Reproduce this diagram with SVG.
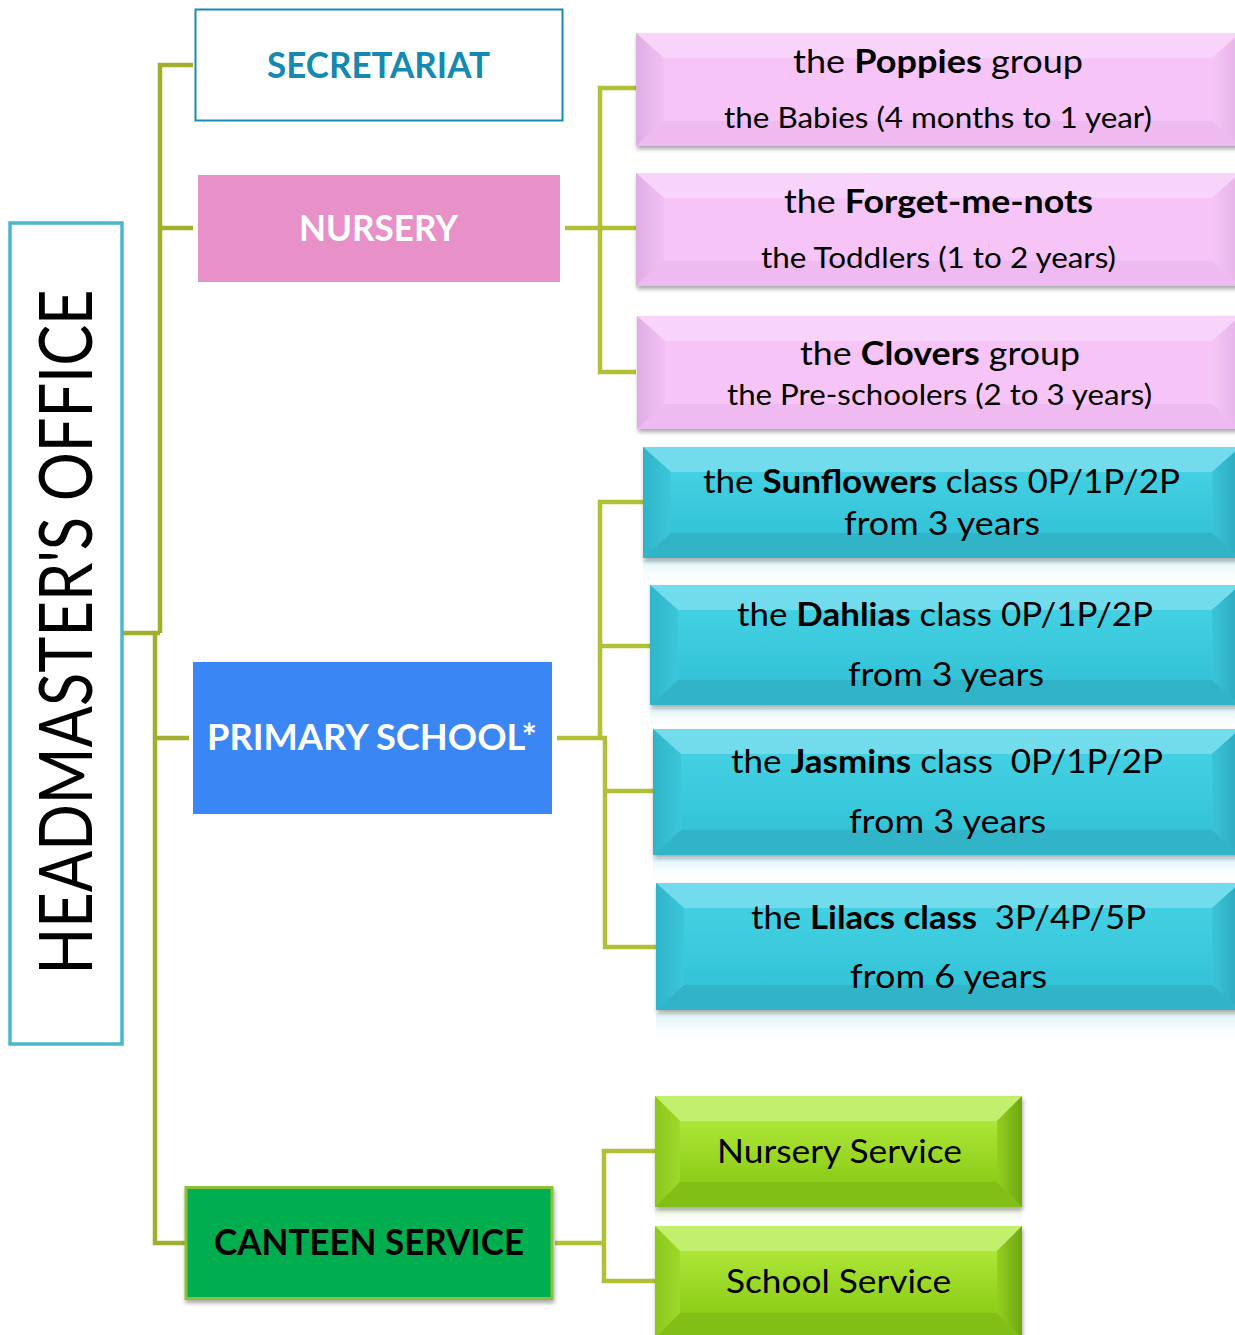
<svg xmlns="http://www.w3.org/2000/svg" width="1235" height="1335" viewBox="0 0 1235 1335">
<style>
text{font-family:Lato,"Noto Sans","Liberation Sans",sans-serif;text-anchor:middle}
.b{font-weight:bold}
.conn{fill:none;stroke:#a2ae2e;stroke-width:4.5;stroke-linejoin:miter}
.conn2{fill:none;stroke:#b2c036;stroke-width:4.5}
.pk{fill:#f6c4f7}
.pkT{fill:#f9d4fa}
.pkL{fill:url(#pkLg)}
.pkR{fill:url(#pkRg)}
.pkB{fill:#eebaef}
.cy{fill:url(#cyF)}
.cyT{fill:#72dcec}
.cyL{fill:url(#cyLg)}
.cyR{fill:url(#cyRg)}
.cyB{fill:#31b4c8}
.gr{fill:url(#grF)}
.grT{fill:#c2ef6c}
.grL{fill:url(#grLg)}
.grR{fill:url(#grRg)}
.grB{fill:#82bf18}
.t1{font-size:33px;fill:#000}
.t2{font-size:29px;fill:#000}
.tc{font-size:33px;fill:#000}
.hd{font-size:36px;font-weight:bold}
</style>
<defs>
<filter id="sh" x="-5%" y="-10%" width="110%" height="130%">
<feDropShadow dx="1" dy="3" stdDeviation="2" flood-color="#000" flood-opacity="0.35"/>
</filter>
<linearGradient id="pkLg" x1="0" y1="0" x2="1" y2="0">
<stop offset="0" stop-color="#deaee2"/><stop offset="1" stop-color="#f2c0f4"/>
</linearGradient>
<linearGradient id="pkRg" x1="0" y1="0" x2="1" y2="0">
<stop offset="0" stop-color="#f4c6f5"/><stop offset="1" stop-color="#e6b2e8"/>
</linearGradient>
<linearGradient id="cyF" x1="0" y1="0" x2="0" y2="1">
<stop offset="0" stop-color="#44d0e2"/><stop offset="1" stop-color="#33c3d8"/>
</linearGradient>
<linearGradient id="cyLg" x1="0" y1="0" x2="1" y2="0">
<stop offset="0" stop-color="#2fb4c8"/><stop offset="1" stop-color="#3cc6da"/>
</linearGradient>
<linearGradient id="cyRg" x1="0" y1="0" x2="1" y2="0">
<stop offset="0" stop-color="#3ac4d8"/><stop offset="1" stop-color="#2aa8bc"/>
</linearGradient>
<linearGradient id="grF" x1="0" y1="0" x2="0" y2="1">
<stop offset="0" stop-color="#ade638"/><stop offset="1" stop-color="#8ccd18"/>
</linearGradient>
<linearGradient id="grLg" x1="0" y1="0" x2="1" y2="0">
<stop offset="0" stop-color="#8cc81c"/><stop offset="1" stop-color="#9ed82a"/>
</linearGradient>
<linearGradient id="grRg" x1="0" y1="0" x2="1" y2="0">
<stop offset="0" stop-color="#94cf20"/><stop offset="1" stop-color="#6fa612"/>
</linearGradient>
<linearGradient id="refC" x1="0" y1="0" x2="0" y2="1">
<stop offset="0" stop-color="#cdeef4" stop-opacity="0.7"/>
<stop offset="1" stop-color="#ffffff" stop-opacity="0"/>
</linearGradient>
<linearGradient id="refG" x1="0" y1="0" x2="0" y2="1">
<stop offset="0" stop-color="#e2f2cc" stop-opacity="0.8"/>
<stop offset="1" stop-color="#ffffff" stop-opacity="0"/>
</linearGradient>
</defs>

<g id="connectors">
<path class="conn" d="M123,633 H160 M193,65 H160 V633 M160,228 H193"/>
<path class="conn" d="M155,633 V1243 H186 M155,738 H189"/>
<path class="conn2" d="M565,228 H636 M636,88 H600 V372 H636"/>
<path class="conn2" d="M557,738 H600 M643,502 H600 V738 M600,738 H605 V947 H656 M600,646 H650 M605,791 H653"/>
<path class="conn2" d="M555,1243 H604 M655,1151 H604 V1281 H655"/>
</g>

<g id="headmaster">
<rect x="10" y="223" width="112" height="821" fill="#fff" stroke="#4bb7c9" stroke-width="3.5"/>
<text transform="translate(92,632) rotate(-90)" font-family="'Liberation Sans',sans-serif" font-size="74" textLength="685" lengthAdjust="spacingAndGlyphs" fill="#000">HEADMASTER'S OFFICE</text>
</g>

<g id="secretariat">
<rect x="195.5" y="9.5" width="367" height="111" fill="#fff" stroke="#168bb3" stroke-width="2"/>
<text x="378.5" y="78" class="hd" fill="#1589b0" textLength="223" lengthAdjust="spacingAndGlyphs">SECRETARIAT</text>
</g>

<g id="nursery">
<rect x="198" y="175" width="362" height="107" fill="#e791c8"/>
<text x="378.5" y="241" class="hd" fill="#fff" textLength="159" lengthAdjust="spacingAndGlyphs">NURSERY</text>
</g>

<g id="primary">
<rect x="193" y="662" width="359" height="152" fill="#3b86f5"/>
<text x="372" y="750" class="hd" fill="#fff" textLength="330" lengthAdjust="spacingAndGlyphs">PRIMARY SCHOOL*</text>
</g>

<g id="canteen">
<rect x="186" y="1187.5" width="366" height="111" fill="#00ad4f" stroke="#8cbf3a" stroke-width="3" filter="url(#sh)"/>
<text x="369" y="1255" class="hd" fill="#000" textLength="310" lengthAdjust="spacingAndGlyphs">CANTEEN SERVICE</text>
</g>

<g id="poppies" filter="url(#sh)">
<rect class="pk" x="636" y="33" width="604" height="113"/>
<polygon class="pkT" points="636,33 1240,33 1212,58 664,58"/>
<polygon class="pkL" points="636,33 664,58 664,121 636,146"/>
<polygon class="pkR" points="1240,33 1212,58 1212,121 1240,146"/>
<polygon class="pkB" points="636,146 1240,146 1212,121 664,121"/>
<rect class="pk" x="664" y="58" width="548" height="63"/>
</g>
<g id="poppies-text">
<text x="938" y="73" class="t1" textLength="290" lengthAdjust="spacingAndGlyphs">the <tspan class="b">Poppies</tspan> group</text>
<text x="938" y="128" class="t2" textLength="428" lengthAdjust="spacingAndGlyphs">the Babies (4 months to 1 year)</text>
</g>

<g id="forgetmenots" filter="url(#sh)">
<rect class="pk" x="636" y="173" width="604" height="113"/>
<polygon class="pkT" points="636,173 1240,173 1212,198 664,198"/>
<polygon class="pkL" points="636,173 664,198 664,261 636,286"/>
<polygon class="pkR" points="1240,173 1212,198 1212,261 1240,286"/>
<polygon class="pkB" points="636,286 1240,286 1212,261 664,261"/>
<rect class="pk" x="664" y="198" width="548" height="63"/>
</g>
<g id="forgetmenots-text">
<text x="938.5" y="213" class="t1" textLength="309" lengthAdjust="spacingAndGlyphs">the <tspan class="b">Forget-me-nots</tspan></text>
<text x="938.5" y="268" class="t2" textLength="355" lengthAdjust="spacingAndGlyphs">the Toddlers (1 to 2 years)</text>
</g>

<g id="clovers" filter="url(#sh)">
<rect class="pk" x="637" y="316" width="603" height="113"/>
<polygon class="pkT" points="637,316 1240,316 1212,341 665,341"/>
<polygon class="pkL" points="637,316 665,341 665,404 637,429"/>
<polygon class="pkR" points="1240,316 1212,341 1212,404 1240,429"/>
<polygon class="pkB" points="637,429 1240,429 1212,404 665,404"/>
<rect class="pk" x="665" y="341" width="547" height="63"/>
</g>
<g id="clovers-text">
<text x="940" y="365" class="t1" textLength="280" lengthAdjust="spacingAndGlyphs">the <tspan class="b">Clovers</tspan> group</text>
<text x="939.5" y="405" class="t2" textLength="425" lengthAdjust="spacingAndGlyphs">the Pre-schoolers (2 to 3 years)</text>
</g>

<rect x="643" y="560" width="597" height="26" fill="url(#refC)"/>
<rect x="650" y="708" width="590" height="22" fill="url(#refC)"/>
<rect x="653" y="858" width="587" height="25" fill="url(#refC)"/>
<rect x="656" y="1013" width="584" height="34" fill="url(#refC)"/>

<g id="sunflowers" filter="url(#sh)">
<rect class="cy" x="643" y="447" width="597" height="111"/>
<polygon class="cyT" points="643,447 1240,447 1212,472 671,472"/>
<polygon class="cyL" points="643,447 671,472 671,533 643,558"/>
<polygon class="cyR" points="1240,447 1212,472 1212,533 1240,558"/>
<polygon class="cyB" points="643,558 1240,558 1212,533 671,533"/>
<rect class="cy" x="671" y="472" width="541" height="61"/>
</g>
<g id="sunflowers-text">
<text x="941.5" y="493" class="tc" textLength="477" lengthAdjust="spacingAndGlyphs">the <tspan class="b">Sunflowers</tspan> class 0P/1P/2P</text>
<text x="942" y="535" class="tc" textLength="196" lengthAdjust="spacingAndGlyphs">from 3 years</text>
</g>

<g id="dahlias" filter="url(#sh)">
<rect class="cy" x="650" y="585" width="590" height="120"/>
<polygon class="cyT" points="650,585 1240,585 1212,610 678,610"/>
<polygon class="cyL" points="650,585 678,610 678,680 650,705"/>
<polygon class="cyR" points="1240,585 1212,610 1212,680 1240,705"/>
<polygon class="cyB" points="650,705 1240,705 1212,680 678,680"/>
<rect class="cy" x="678" y="610" width="534" height="70"/>
</g>
<g id="dahlias-text">
<text x="945" y="626" class="tc" textLength="416" lengthAdjust="spacingAndGlyphs">the <tspan class="b">Dahlias</tspan> class 0P/1P/2P</text>
<text x="946" y="686" class="tc" textLength="196" lengthAdjust="spacingAndGlyphs">from 3 years</text>
</g>

<g id="jasmins" filter="url(#sh)">
<rect class="cy" x="653" y="729" width="587" height="126"/>
<polygon class="cyT" points="653,729 1240,729 1212,754 681,754"/>
<polygon class="cyL" points="653,729 681,754 681,830 653,855"/>
<polygon class="cyR" points="1240,729 1212,754 1212,830 1240,855"/>
<polygon class="cyB" points="653,855 1240,855 1212,830 681,830"/>
<rect class="cy" x="681" y="754" width="531" height="76"/>
</g>
<g id="jasmins-text">
<text x="947" y="773" class="tc" textLength="432" lengthAdjust="spacingAndGlyphs" xml:space="preserve">the <tspan class="b">Jasmins</tspan> class  0P/1P/2P</text>
<text x="947.5" y="833" class="tc" textLength="197" lengthAdjust="spacingAndGlyphs">from 3 years</text>
</g>

<g id="lilacs" filter="url(#sh)">
<rect class="cy" x="656" y="883" width="584" height="127"/>
<polygon class="cyT" points="656,883 1240,883 1212,908 684,908"/>
<polygon class="cyL" points="656,883 684,908 684,985 656,1010"/>
<polygon class="cyR" points="1240,883 1212,908 1212,985 1240,1010"/>
<polygon class="cyB" points="656,1010 1240,1010 1212,985 684,985"/>
<rect class="cy" x="684" y="908" width="528" height="77"/>
</g>
<g id="lilacs-text">
<text x="948.5" y="929" class="tc" textLength="395" lengthAdjust="spacingAndGlyphs" xml:space="preserve">the <tspan class="b">Lilacs class</tspan>  3P/4P/5P</text>
<text x="948.5" y="988" class="tc" textLength="197" lengthAdjust="spacingAndGlyphs">from 6 years</text>
</g>

<rect x="655" y="1209" width="367" height="17" fill="url(#refG)"/>

<g id="nurseryservice" filter="url(#sh)">
<rect class="gr" x="655" y="1096" width="367" height="111"/>
<polygon class="grT" points="655,1096 1022,1096 997,1121 680,1121"/>
<polygon class="grL" points="655,1096 680,1121 680,1182 655,1207"/>
<polygon class="grR" points="1022,1096 997,1121 997,1182 1022,1207"/>
<polygon class="grB" points="655,1207 1022,1207 997,1182 680,1182"/>
<rect class="gr" x="680" y="1121" width="317" height="61"/>
</g>
<g id="nurseryservice-text">
<text x="839.5" y="1163" class="tc" textLength="245" lengthAdjust="spacingAndGlyphs">Nursery Service</text>
</g>

<g id="schoolservice" filter="url(#sh)">
<rect class="gr" x="655" y="1226" width="367" height="112"/>
<polygon class="grT" points="655,1226 1022,1226 997,1251 680,1251"/>
<polygon class="grL" points="655,1226 680,1251 680,1313 655,1338"/>
<polygon class="grR" points="1022,1226 997,1251 997,1313 1022,1338"/>
<polygon class="grB" points="655,1338 1022,1338 997,1313 680,1313"/>
<rect class="gr" x="680" y="1251" width="317" height="62"/>
</g>
<g id="schoolservice-text">
<text x="838.5" y="1293" class="tc" textLength="225" lengthAdjust="spacingAndGlyphs">School Service</text>
</g>
</svg>
